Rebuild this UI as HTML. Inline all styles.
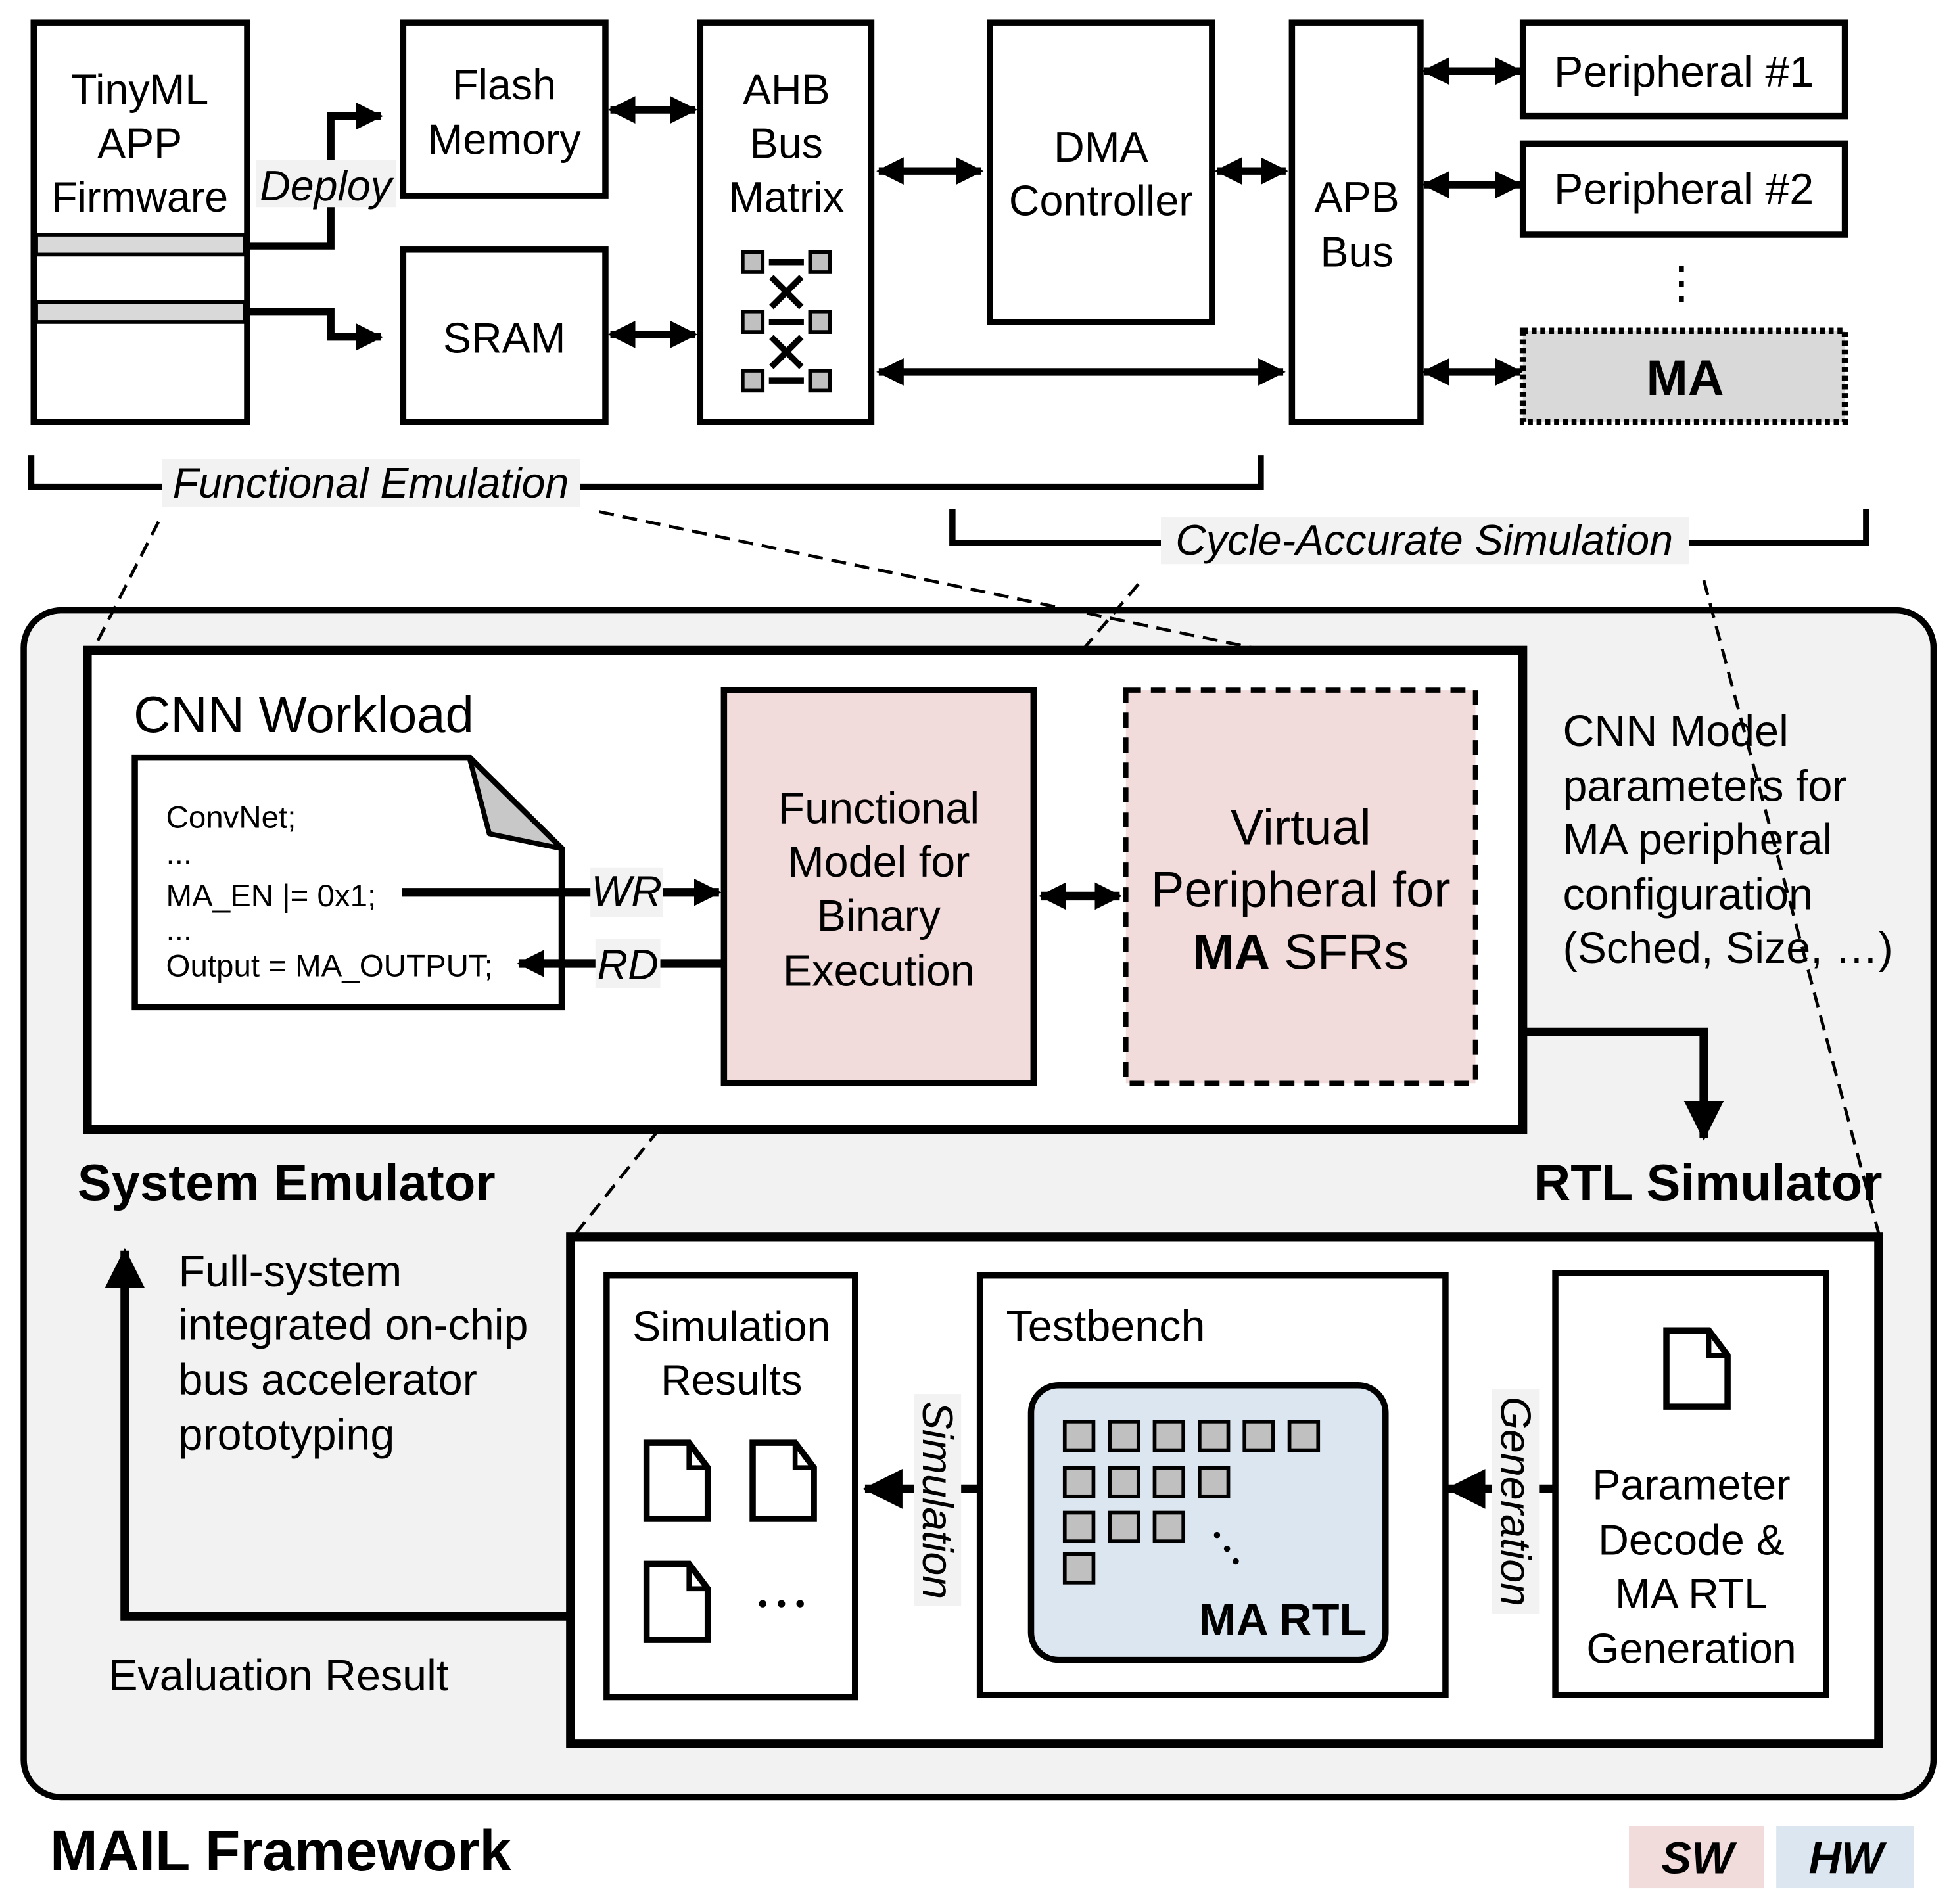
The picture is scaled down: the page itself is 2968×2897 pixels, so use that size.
<!DOCTYPE html>
<html><head><meta charset="utf-8"><style>
html,body{margin:0;padding:0;background:#fff}
svg{display:block}
text{font-family:"Liberation Sans",Arial,sans-serif;fill:#000}
</style></head><body>
<svg width="2968" height="2897" viewBox="0 0 1563 1525.6" xmlns="http://www.w3.org/2000/svg">
<defs>
<marker id="ah" markerUnits="userSpaceOnUse" markerWidth="24" markerHeight="24" refX="20" refY="12" orient="auto-start-reverse"><path d="M0,1 L22,12 L0,23 Z" fill="#000"/></marker>
<marker id="ahb" markerUnits="userSpaceOnUse" markerWidth="34" markerHeight="34" refX="30" refY="17" orient="auto-start-reverse"><path d="M0,1 L32,17 L0,33 Z" fill="#000"/></marker>
</defs>
<g stroke="#000" stroke-width="5" fill="#fff">
<rect x="27" y="18" width="171" height="320"/>
<rect x="29" y="188" width="167" height="16" fill="#d9d9d9" stroke-width="3"/>
<rect x="29" y="242" width="167" height="16" fill="#d9d9d9" stroke-width="3"/>
<rect x="323" y="18" width="162" height="139"/>
<rect x="323" y="200" width="162" height="138"/>
<rect x="561" y="18" width="137" height="320"/>
<rect x="793" y="18" width="178" height="240"/>
<rect x="1035" y="18" width="103" height="320"/>
<rect x="1220" y="18" width="258" height="75"/>
<rect x="1220" y="115" width="258" height="73"/>
<rect x="1220" y="265" width="258" height="73" fill="#d9d9d9" stroke-dasharray="4,3"/>
</g>
<g stroke="#000" stroke-width="3" fill="#c0c0c0">
<rect x="595" y="202" width="16" height="16"/><rect x="649" y="202" width="16" height="16"/>
<rect x="595" y="250" width="16" height="16"/><rect x="649" y="250" width="16" height="16"/>
<rect x="595" y="297" width="16" height="16"/><rect x="649" y="297" width="16" height="16"/>
</g>
<g stroke="#000" stroke-width="5">
<line x1="616" y1="210" x2="644" y2="210"/><line x1="616" y1="258" x2="644" y2="258"/><line x1="616" y1="305" x2="644" y2="305"/>
<line x1="618" y1="222" x2="642" y2="246"/><line x1="642" y1="222" x2="618" y2="246"/>
<line x1="618" y1="270" x2="642" y2="294"/><line x1="642" y1="270" x2="618" y2="294"/>
</g>
<g stroke="#000" stroke-width="6" fill="none">
<polyline points="198,197 265,197 265,93 305,93" marker-end="url(#ah)"/>
<polyline points="198,250 265,250 265,270 305,270" marker-end="url(#ah)"/>
<line x1="489" y1="88" x2="557" y2="88" marker-start="url(#ah)" marker-end="url(#ah)"/>
<line x1="489" y1="268" x2="557" y2="268" marker-start="url(#ah)" marker-end="url(#ah)"/>
<line x1="704" y1="137" x2="786" y2="137" marker-start="url(#ah)" marker-end="url(#ah)"/>
<line x1="975" y1="137" x2="1030" y2="137" marker-start="url(#ah)" marker-end="url(#ah)"/>
<line x1="704" y1="298" x2="1028" y2="298" marker-start="url(#ah)" marker-end="url(#ah)"/>
<line x1="1141" y1="57" x2="1218" y2="57" marker-start="url(#ah)" marker-end="url(#ah)"/>
<line x1="1141" y1="148" x2="1218" y2="148" marker-start="url(#ah)" marker-end="url(#ah)"/>
<line x1="1141" y1="298" x2="1218" y2="298" marker-start="url(#ah)" marker-end="url(#ah)"/>
</g>
<g stroke="#000" stroke-width="4" stroke-dasharray="5,7"><line x1="1347" y1="213" x2="1347" y2="245"/></g>
<rect x="205" y="128" width="112" height="38" fill="#f2f2f2"/>
<g font-size="34" text-anchor="middle" dominant-baseline="central">
<text x="112" y="72">TinyML</text><text x="112" y="115">APP</text><text x="112" y="158">Firmware</text>
<text x="261" y="149" font-style="italic">Deploy</text>
<text x="404" y="68">Flash</text><text x="404" y="112">Memory</text>
<text x="404" y="271">SRAM</text>
<text x="630" y="72">AHB</text><text x="630" y="115">Bus</text><text x="630" y="158">Matrix</text>
<text x="882" y="118">DMA</text><text x="882" y="161">Controller</text>
<text x="1087" y="158">APB</text><text x="1087" y="202">Bus</text>
<text x="1349" y="58" font-size="35">Peripheral #1</text><text x="1349" y="152" font-size="35">Peripheral #2</text>
<text x="1350" y="303" font-weight="bold" font-size="40">MA</text>
</g>
<g stroke="#000" stroke-width="5" fill="none">
<polyline points="25,365 25,390 1010,390 1010,365"/>
<polyline points="763,408 763,435 1495,435 1495,408"/>
</g>
<rect x="130" y="368" width="335" height="38" fill="#f2f2f2"/>
<rect x="930" y="414" width="423" height="38" fill="#f2f2f2"/>
<g font-size="34" font-style="italic" text-anchor="middle" dominant-baseline="central">
<text x="297" y="387">Functional Emulation</text>
<text x="1141" y="433">Cycle-Accurate Simulation</text>
</g>
<rect x="19" y="489" width="1530" height="951" rx="30" fill="#f2f2f2" stroke="#000" stroke-width="5"/>
<g stroke="#000" stroke-width="2.5" stroke-dasharray="12,7" fill="none">
<line x1="127" y1="418" x2="75" y2="520"/>
<line x1="480" y1="410" x2="1008" y2="520"/>
<line x1="912" y1="468" x2="868" y2="520"/>
<line x1="1365" y1="465" x2="1505" y2="988"/>
<line x1="528" y1="905" x2="460" y2="990"/>
</g>
<rect x="70" y="521" width="1150" height="384" fill="#fff" stroke="#000" stroke-width="7"/>
<text x="107" y="573" font-size="41" dominant-baseline="central">CNN Workload</text>
<path d="M108,607 L376,607 L450,680 L450,807 L108,807 Z" fill="#fff" stroke="#000" stroke-width="5"/>
<path d="M376,607 L392,668 L450,680 Z" fill="#c8c8c8" stroke="#000" stroke-width="4" stroke-linejoin="round"/>
<g font-size="25" dominant-baseline="central">
<text x="133" y="655">ConvNet;</text><text x="133" y="684">...</text>
<text x="133" y="718">MA_EN |= 0x1;</text><text x="133" y="745">...</text>
<text x="133" y="774">Output = MA_OUTPUT;</text>
</g>
<g stroke="#000" stroke-width="7" fill="none">
<line x1="322" y1="715" x2="576" y2="715" marker-end="url(#ah)"/>
<line x1="578" y1="772" x2="416" y2="772" marker-end="url(#ah)"/>
<line x1="834" y1="718" x2="897" y2="718" marker-start="url(#ah)" marker-end="url(#ah)"/>
<polyline points="1220,827 1365,827 1365,912" marker-end="url(#ahb)"/>
</g>
<rect x="473" y="695" width="58" height="40" fill="#f2f2f2"/>
<rect x="477" y="752" width="52" height="40" fill="#f2f2f2"/>
<g font-size="34" font-style="italic" text-anchor="middle" dominant-baseline="central">
<text x="502" y="714">WR</text><text x="503" y="773">RD</text>
</g>
<rect x="580" y="553" width="248" height="315" fill="#f2dcdb" stroke="#000" stroke-width="5"/>
<rect x="902" y="553" width="280" height="315" fill="#f2dcdb" stroke="#000" stroke-width="4" stroke-dasharray="12,8"/>
<g font-size="35" text-anchor="middle" dominant-baseline="central">
<text x="704" y="648">Functional</text><text x="704" y="691">Model for</text><text x="704" y="734">Binary</text><text x="704" y="778">Execution</text>
</g>
<g font-size="40" text-anchor="middle" dominant-baseline="central">
<text x="1042" y="663">Virtual</text><text x="1042" y="713">Peripheral for</text>
<text x="1042" y="763"><tspan font-weight="bold">MA</tspan> SFRs</text>
</g>
<g font-size="35" dominant-baseline="central">
<text x="1252" y="586">CNN Model</text><text x="1252" y="630">parameters for</text><text x="1252" y="673">MA peripheral</text>
<text x="1252" y="717">configuration</text><text x="1252" y="760">(Sched, Size, …)</text>
</g>
<g font-size="41" font-weight="bold" dominant-baseline="central">
<text x="62" y="948">System Emulator</text>
<text x="1508" y="948" text-anchor="end">RTL Simulator</text>
</g>
<rect x="457" y="991" width="1048" height="406" fill="#fff" stroke="#000" stroke-width="7"/>
<polyline points="457,1295 100,1295 100,1002" fill="none" stroke="#000" stroke-width="7" marker-end="url(#ahb)"/>
<g font-size="35" dominant-baseline="central">
<text x="143" y="1019">Full-system</text><text x="143" y="1062">integrated on-chip</text>
<text x="143" y="1106">bus accelerator</text><text x="143" y="1150">prototyping</text>
<text x="87" y="1343">Evaluation Result</text>
</g>
<g stroke="#000" stroke-width="5" fill="#fff">
<rect x="486" y="1022" width="199" height="338"/>
<rect x="785" y="1022" width="373" height="336"/>
<rect x="1246" y="1020" width="217" height="338"/>
</g>
<rect x="826" y="1110" width="284" height="220" rx="22" fill="#dce6f1" stroke="#000" stroke-width="5"/>
<g stroke="#000" stroke-width="3" fill="#c0c0c0">
<rect x="853" y="1139" width="23" height="23"/><rect x="889" y="1139" width="23" height="23"/><rect x="925" y="1139" width="23" height="23"/><rect x="961" y="1139" width="23" height="23"/><rect x="997" y="1139" width="23" height="23"/><rect x="1033" y="1139" width="23" height="23"/>
<rect x="853" y="1176" width="23" height="23"/><rect x="889" y="1176" width="23" height="23"/><rect x="925" y="1176" width="23" height="23"/><rect x="961" y="1176" width="23" height="23"/>
<rect x="853" y="1212" width="23" height="23"/><rect x="889" y="1212" width="23" height="23"/><rect x="925" y="1212" width="23" height="23"/>
<rect x="853" y="1245" width="23" height="23"/>
</g>
<g fill="#000"><circle cx="975" cy="1230" r="2.5"/><circle cx="983" cy="1241" r="2.5"/><circle cx="990" cy="1251" r="2.5"/></g>
<g stroke="#000" stroke-width="5" fill="#fff" stroke-linejoin="miter">
<path d="M518,1156 L552,1156 L567,1176 L567,1217 L518,1217 Z"/><path d="M552,1156 L552,1176 L567,1176" fill="none" stroke-width="4"/>
<path d="M603,1156 L637,1156 L652,1176 L652,1217 L603,1217 Z"/><path d="M637,1156 L637,1176 L652,1176" fill="none" stroke-width="4"/>
<path d="M518,1253 L552,1253 L567,1273 L567,1314 L518,1314 Z"/><path d="M552,1253 L552,1273 L567,1273" fill="none" stroke-width="4"/>
<path d="M1335,1066 L1369,1066 L1384,1086 L1384,1127 L1335,1127 Z"/><path d="M1369,1066 L1369,1086 L1384,1086" fill="none" stroke-width="4"/>
</g>
<g fill="#000"><circle cx="611" cy="1285" r="3"/><circle cx="626" cy="1285" r="3"/><circle cx="641" cy="1285" r="3"/></g>
<g stroke="#000" stroke-width="7">
<line x1="785" y1="1193" x2="693" y2="1193" marker-end="url(#ahb)"/>
<line x1="1246" y1="1193" x2="1160" y2="1193" marker-end="url(#ahb)"/>
</g>
<rect x="732" y="1117" width="38" height="170" fill="#f2f2f2"/>
<rect x="1195" y="1113" width="38" height="180" fill="#f2f2f2"/>
<g font-size="34" font-style="italic" text-anchor="middle" dominant-baseline="central">
<text transform="translate(751,1202) rotate(90)">Simulation</text>
<text transform="translate(1214,1203) rotate(90)">Generation</text>
</g>
<g font-size="34" text-anchor="middle" dominant-baseline="central">
<text x="586" y="1063">Simulation</text><text x="586" y="1106">Results</text>
<text x="1355" y="1190">Parameter</text><text x="1355" y="1234">Decode &amp;</text><text x="1355" y="1277">MA RTL</text><text x="1355" y="1321">Generation</text>
</g>
<text x="806" y="1063" font-size="35" dominant-baseline="central">Testbench</text>
<text x="1095" y="1298" font-size="36" font-weight="bold" text-anchor="end" dominant-baseline="central">MA RTL</text>
<text x="40" y="1483" font-size="46" font-weight="bold" dominant-baseline="central">MAIL Framework</text>
<rect x="1305" y="1463" width="108" height="50" fill="#f2dcdb"/>
<rect x="1423" y="1463" width="110" height="50" fill="#dce6f1"/>
<g font-size="36" font-weight="bold" font-style="italic" text-anchor="middle" dominant-baseline="central">
<text x="1360" y="1489">SW</text><text x="1479" y="1489">HW</text>
</g>
</svg>
</body></html>
